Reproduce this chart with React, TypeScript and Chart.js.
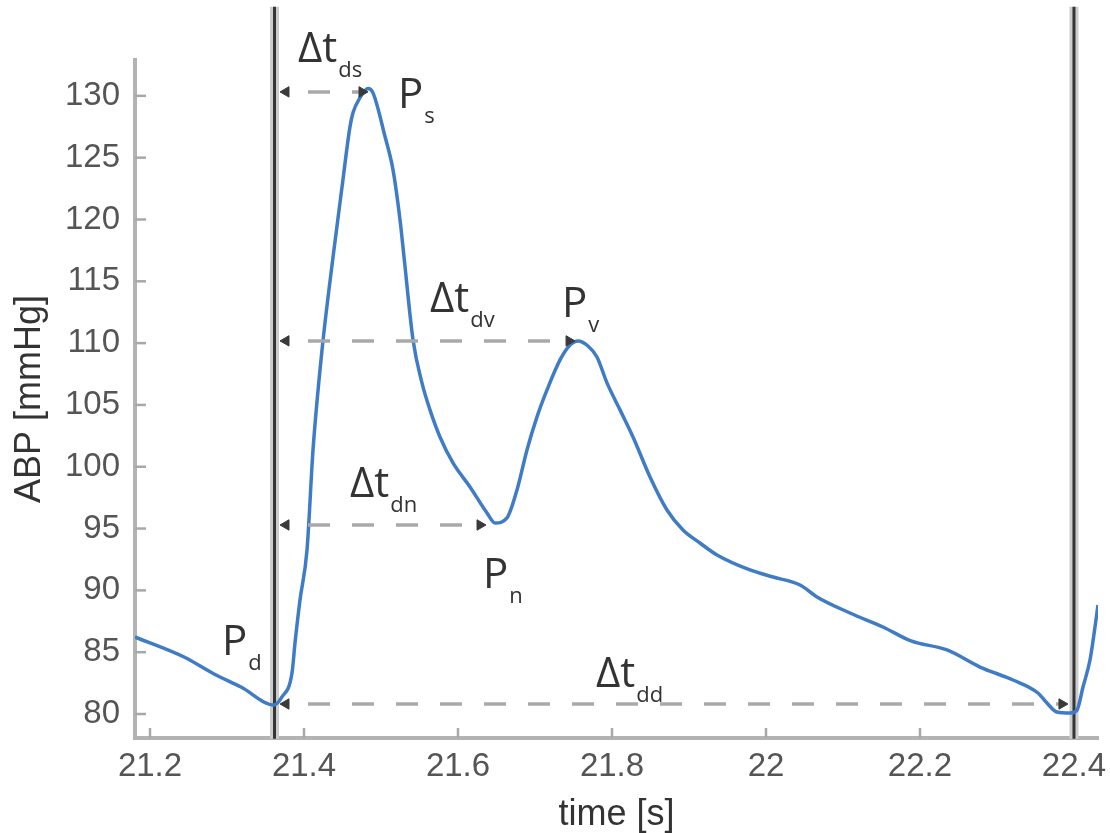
import React, { useEffect, useRef } from 'react';
import { Chart, registerables } from 'chart.js';

Chart.register(...registerables);

// ABP waveform (time in s, pressure in mmHg)
const timeS = [
  21.1805, 21.2442, 21.2831, 21.3182, 21.3610, 21.3714, 21.3844, 21.3883, 21.3948, 21.4039,
  21.4117, 21.4234, 21.4377, 21.4494, 21.4597, 21.4636, 21.4727, 21.4831, 21.4896, 21.5052,
  21.5156, 21.5247, 21.5299, 21.5416, 21.5532, 21.5636, 21.5766, 21.5935, 21.6156, 21.6377,
  21.6481, 21.6636, 21.6766, 21.6896, 21.7026, 21.7156, 21.7325, 21.7455, 21.7558, 21.7688,
  21.7805, 21.7935, 21.8104, 21.8273, 21.8494, 21.8714, 21.8922, 21.9143, 21.9364, 21.9792,
  22.0091, 22.0442, 22.0662, 22.1091, 22.1519, 22.1883, 22.2351, 22.2779, 22.3208, 22.3532,
  22.3649, 22.3779, 22.3948, 22.4039, 22.4117, 22.4208, 22.4273, 22.4312,
];
const abpMmHg = [
  86.23, 84.61, 83.24, 82.18, 80.73, 81.38, 83.32, 85.74, 89.22, 93.27,
  101.36, 109.45, 116.97, 122.64, 127.49, 128.63, 129.85, 130.6, 130.24, 126.71,
  124.01, 119.97, 116.97, 110.26, 106.78, 104.6, 102.41, 100.31, 98.37, 96.26,
  95.45, 95.86, 98.12, 101.36, 104.03, 106.21, 108.64, 109.85, 110.18, 109.77,
  108.88, 106.78, 104.6, 102.41, 99.17, 96.5, 94.89, 93.83, 92.86, 91.65,
  91.08, 90.44, 89.47, 88.17, 87.04, 85.91, 85.18, 83.8, 82.75, 81.7,
  80.89, 80.16, 80.08, 80.32, 82.18, 84.37, 87.04, 88.82,
];

// axes
const xMin = 21.1805;
const xMax = 22.4312;
const yMin = 78.06;
const yMax = 132.9;
const xTickValues = [21.2, 21.4, 21.6, 21.8, 22.0, 22.2, 22.4];
const xTickLabels = ['21.2', '21.4', '21.6', '21.8', '22', '22.2', '22.4'];
const yTickValues = [80, 85, 90, 95, 100, 105, 110, 115, 120, 125, 130];
const yTickLabels = ['80', '85', '90', '95', '100', '105', '110', '115', '120', '125', '130'];

// vertical beat markers
const markerTimes = [21.3617, 22.4];
const markerBottom = 78.0;
const markerTop = 137.2;

// Δt arrows
const arrowNames = ['ds', 'dv', 'dn', 'dd'];
const arrowStart = [21.3766, 21.3766, 21.3766, 21.3766];
const arrowEnd = [21.4753, 21.7442, 21.6286, 22.3844];
const arrowLevel = [130.32, 110.18, 95.29, 80.81];

// text annotations (main symbol, subscript, anchor time, anchor pressure)
const labelMain = ['Δt', 'P', 'Δt', 'P', 'Δt', 'P', 'P', 'Δt'];
const labelSub = ['ds', 's', 'dv', 'v', 'dn', 'n', 'd', 'dd'];
const labelT = [21.3922, 21.5221, 21.5636, 21.7351, 21.4597, 21.6325, 21.2935, 21.7792];
const labelV = [132.75, 129.03, 112.52, 112.12, 97.56, 90.19, 84.77, 82.18];

const FONT = '"Liberation Sans", Arial, Helvetica, sans-serif';

const overlayPlugin = {
  id: 'overlay',
  beforeDatasetsDraw(chart: any) {
    const { ctx, chartArea } = chart;
    const xs = chart.scales.x;
    const ys = chart.scales.y;
    ctx.save();
    ctx.strokeStyle = '#a8a8a8';
    ctx.lineWidth = 2.5;
    yTickValues.forEach((v) => {
      const py = ys.getPixelForValue(v);
      ctx.beginPath();
      ctx.moveTo(chartArea.left, py);
      ctx.lineTo(chartArea.left + 11, py);
      ctx.stroke();
    });
    xTickValues.forEach((v) => {
      const px = xs.getPixelForValue(v);
      ctx.beginPath();
      ctx.moveTo(px, chartArea.bottom);
      ctx.lineTo(px, chartArea.bottom - 10);
      ctx.stroke();
    });
    ctx.restore();
  },
  afterDatasetsDraw(chart: any) {
    const { ctx } = chart;
    const xs = chart.scales.x;
    const ys = chart.scales.y;
    ctx.save();
    ctx.fillStyle = '#333333';
    ctx.textAlign = 'left';
    ctx.textBaseline = 'alphabetic';
    labelMain.forEach((m, i) => {
      const px = xs.getPixelForValue(labelT[i]);
      const py = ys.getPixelForValue(labelV[i]);
      ctx.font = '42px "Open Sans", sans-serif';
      ctx.fillText(m, px, py);
      const w = ctx.measureText(m).width;
      ctx.font = '22px "Open Sans", sans-serif';
      ctx.fillText(labelSub[i], px + w + 1, py + 15);
    });
    ctx.restore();
  },
};

export default function App() {
  const canvasRef = useRef<HTMLCanvasElement | null>(null);

  useEffect(() => {
    const canvas = canvasRef.current;
    if (!canvas) return;

    const curve = timeS.map((t, i) => ({ x: t, y: abpMmHg[i] }));

    const markerHalos = markerTimes.map((t) => ({
      label: 'marker halo',
      data: [{ x: t, y: markerBottom }, { x: t, y: markerTop }],
      showLine: true,
      borderColor: '#cdcdcd',
      borderWidth: 9,
      pointRadius: 0,
      clip: false,
      order: 4,
    }));
    const markerCores = markerTimes.map((t) => ({
      label: 'marker',
      data: [{ x: t, y: markerBottom }, { x: t, y: markerTop }],
      showLine: true,
      borderColor: '#353535',
      borderWidth: 3,
      pointRadius: 0,
      clip: false,
      order: 3,
    }));
    const arrows = arrowNames.map((n, i) => ({
      label: 'Δt ' + n,
      data: [{ x: arrowStart[i], y: arrowLevel[i] }, { x: arrowEnd[i], y: arrowLevel[i] }],
      showLine: true,
      borderColor: '#a9a9a9',
      borderWidth: 3.5,
      borderDash: [22, 22],
      borderDashOffset: 22,
      pointStyle: 'triangle',
      pointRotation: (c: any) => (c.dataIndex === 0 ? -90 : 90),
      pointRadius: 6,
      pointBackgroundColor: '#3a3a3a',
      pointBorderColor: '#3a3a3a',
      pointBorderWidth: 1,
      clip: false,
      order: 0,
    }));

    const chart = new Chart(canvas, {
      type: 'scatter',
      data: {
        datasets: [
          {
            label: 'ABP',
            data: curve,
            showLine: true,
            borderColor: '#3f7cc5',
            borderWidth: 3.5,
            pointRadius: 0,
            cubicInterpolationMode: 'monotone',
            order: 1,
          } as any,
          ...arrows,
          ...markerCores,
          ...markerHalos,
        ],
      },
      options: {
        animation: false,
        responsive: false,
        devicePixelRatio: 1,
        layout: { padding: { top: 60, right: 12, left: 0, bottom: 0 } },
        plugins: {
          legend: { display: false },
          tooltip: { enabled: false },
        },
        scales: {
          x: {
            type: 'linear',
            min: xMin,
            max: xMax,
            afterBuildTicks: (scale: any) => {
              scale.ticks = xTickValues.map((v) => ({ value: v }));
            },
            afterFit: (scale: any) => {
              scale.height = 95;
              scale.paddingLeft = 0;
              scale.paddingRight = 0;
            },
            ticks: {
              callback: (value: any) => {
                const i = xTickValues.findIndex((v) => Math.abs(v - value) < 1e-6);
                return i >= 0 ? xTickLabels[i] : '';
              },
              font: { family: FONT, size: 33, lineHeight: 1 },
              color: '#555555',
              padding: 12,
              maxRotation: 0,
              autoSkip: false,
            },
            grid: { display: false, drawTicks: false },
            border: { display: true, color: '#b3b3b3', width: 4 },
            title: {
              display: true,
              text: 'time [s]',
              font: { family: FONT, size: 36, lineHeight: 1 },
              color: '#333333',
              padding: { top: 0, bottom: 0 },
            },
          },
          y: {
            type: 'linear',
            min: yMin,
            max: yMax,
            afterBuildTicks: (scale: any) => {
              scale.ticks = yTickValues.map((v) => ({ value: v }));
            },
            afterFit: (scale: any) => {
              scale.width = 135;
              scale.paddingTop = 0;
              scale.paddingBottom = 0;
            },
            ticks: {
              callback: (value: any) => {
                const i = yTickValues.findIndex((v) => Math.abs(v - value) < 1e-6);
                return i >= 0 ? yTickLabels[i] : '';
              },
              font: { family: FONT, size: 33, lineHeight: 1 },
              color: '#555555',
              padding: 15,
              autoSkip: false,
            },
            grid: { display: false, drawTicks: false },
            border: { display: true, color: '#b3b3b3', width: 4 },
            title: {
              display: true,
              text: 'ABP [mmHg]',
              font: { family: FONT, size: 36, lineHeight: 1 },
              color: '#333333',
              padding: { top: 12, bottom: 0 },
            },
          },
        },
      },
      plugins: [overlayPlugin],
    } as any);

    return () => {
      chart.destroy();
    };
  }, []);

  return (
    <div style={{ position: 'absolute', left: 0, top: 0, width: 1110, height: 833, background: '#ffffff' }}>
      <canvas ref={canvasRef} width={1110} height={833} style={{ display: 'block', width: 1110, height: 833 }} />
    </div>
  );
}
